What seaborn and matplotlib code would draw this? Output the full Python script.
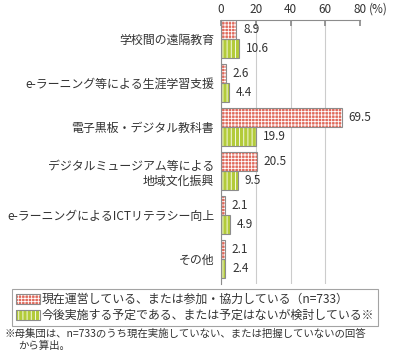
import matplotlib
matplotlib.use('Agg')
import matplotlib.pyplot as plt
from matplotlib.patches import Rectangle, Patch
from matplotlib.legend_handler import HandlerTuple
import seaborn as sns
import pandas as pd

sns.set_theme(style='white')
plt.rcParams['font.family'] = ['Noto Sans CJK JP', 'DejaVu Sans']
plt.rcParams['hatch.linewidth'] = 0.6

categories = ['学校間の遠隔教育',
              'e-ラーニング等による生涯学習支援',
              '電子黒板・デジタル教科書',
              'デジタルミュージアム等による\n地域文化振興',
              'e-ラーニングによるICTリテラシー向上',
              'その他']
series = ['現在運営している、または参加・協力している（n=733）',
          '今後実施する予定である、または予定はないが検討している※']
current = [8.9, 2.6, 69.5, 20.5, 2.1, 2.1]
planned = [10.6, 4.4, 19.9, 9.5, 4.9, 2.4]
xticks = [0, 20, 40, 60, 80]
note = ['※母集団は、n=733のうち現在実施していない、または把握していないの回答',
        'から算出。']

colors = ['#e0695b', '#b3cb3a']
hatches = ['+++++', '||||']
txt = '#333333'
edge = '#8c8c8c'

df = pd.DataFrame({
    'cat': categories * 2,
    'val': current + planned,
    'ser': [series[0]] * len(categories) + [series[1]] * len(categories),
})

fig = plt.figure(figsize=(3.93, 3.58), dpi=100)
ax = fig.add_axes([221 / 393, 1 - 284 / 358, 139 / 393, 264 / 358])

sns.barplot(data=df, y='cat', x='val', hue='ser', order=categories, hue_order=series,
            palette=colors, orient='h', width=0.86, gap=0, edgecolor='white',
            linewidth=0, saturation=1, legend=False, ax=ax)

# hatch in white, grey outline drawn on top
for cont, h, vals in zip(ax.containers, hatches, [current, planned]):
    for p in cont:
        p.set_hatch(h)
        ax.add_patch(Rectangle(p.get_xy(), p.get_width(), p.get_height(),
                               fill=False, ec=edge, lw=0.8, zorder=3))
    ax.bar_label(cont, labels=['%.1f' % v for v in vals], padding=5,
                 fontsize=8.5, color=txt)

ax.set_xlim(xticks[0], xticks[-1])
ax.set_ylim(5.568, -0.432)
ax.set_xticks(xticks)
ax.xaxis.tick_top()
ax.tick_params(axis='x', direction='in', length=4, color=edge, labelsize=8.5,
               labelcolor=txt, pad=3)
ax.tick_params(axis='y', which='major', length=0, labelsize=8.6, labelcolor=txt, pad=5)
ax.set_yticks([i + 0.5 for i in range(len(categories) - 1)], minor=True)
ax.tick_params(axis='y', which='minor', direction='in', length=3, color=edge, width=0.8)
ax.set_xlabel('')
ax.set_ylabel('')
ax.xaxis.grid(True, color='#cccccc', lw=0.8)
ax.get_xgridlines()[-1].set_visible(False)
ax.set_axisbelow(True)
for s in ['right', 'bottom']:
    ax.spines[s].set_visible(False)
for s in ['top', 'left']:
    ax.spines[s].set_color(edge)
    ax.spines[s].set_linewidth(0.8)

ax.annotate('(%)', xy=(xticks[-1], 1), xycoords=ax.get_xaxis_transform(),
            xytext=(6.5, 3), textcoords='offset points', ha='left', va='bottom',
            fontsize=8.5, color=txt)

handles = [(Patch(fc=c, ec='white', lw=0, hatch=h), Patch(fill=False, ec=edge, lw=0.8))
           for c, h in zip(colors, hatches)]
leg = fig.legend(handles, series, loc='upper left', bbox_to_anchor=(12 / 393, 1 - 289 / 358),
                 borderaxespad=0, frameon=True, fancybox=False, edgecolor=edge,
                 fontsize=8.6, handlelength=2.0, handleheight=0.8, handletextpad=0.15,
                 labelspacing=0.25, borderpad=0.35,
                 handler_map={tuple: HandlerTuple(ndivide=1, pad=0)})
leg.get_frame().set_linewidth(0.8)
for t in leg.get_texts():
    t.set_color(txt)

fig.text(5 / 393, 1 - 329 / 358, note[0], ha='left', va='top', fontsize=7.5, color=txt)
fig.text(18 / 393, 1 - 341 / 358, note[1], ha='left', va='top', fontsize=7.5, color=txt)

fig.savefig('out.png', dpi=100)
